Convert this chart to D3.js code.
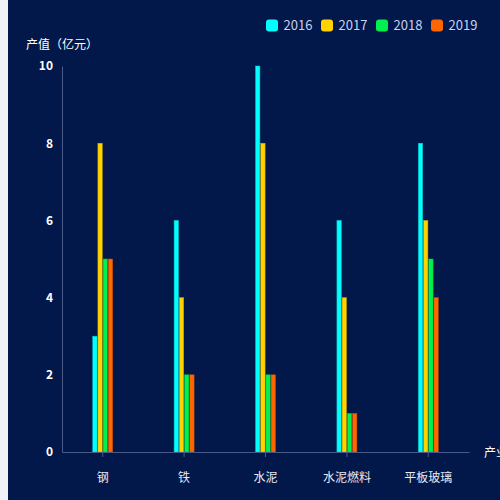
<!DOCTYPE html>
<html><head><meta charset="utf-8">
<script src="https://cdn.jsdelivr.net/npm/d3@7"></script>
<style>
html,body{margin:0;padding:0;background:#f0f2f7;}
svg{display:block;}
</style></head>
<body>
<svg id="c" width="500" height="500"></svg>
<script>
const categories = ["钢","铁","水泥","水泥燃料","平板玻璃"];
const seriesNames = ["2016","2017","2018","2019"];
const v2016 = [3,6,10,6,8];
const v2017 = [8,4,8,4,6];
const v2018 = [5,2,2,1,5];
const v2019 = [5,2,2,1,4];
const yTicks = [0,2,4,6,8,10];
const colors = ["#00ffff","#ffd200","#00f050","#ff6600"];
const seriesVals = [v2016,v2017,v2018,v2019];

(function(){
const svg = d3.select("#c");
const font = "'Microsoft YaHei','Noto Sans CJK SC',sans-serif";
svg.append("rect").attr("x",8).attr("y",0).attr("width",492).attr("height",500).attr("fill","#02174a");

const mLeft=62,mRight=469,mTop=66,mBottom=452;
const x = d3.scaleBand().domain(categories).range([mLeft,mRight]);
const y = d3.scaleLinear().domain([0,10]).range([mBottom,mTop]);
const xs = d3.scaleBand().domain(seriesNames).range([-10,10]).paddingInner(0.15);

// y axis
const ya = svg.append("g").attr("transform",`translate(${mLeft},0)`)
  .call(d3.axisLeft(y).tickValues(yTicks).tickSize(0).tickPadding(9));
ya.select(".domain").attr("stroke","#4a5a86");
ya.selectAll("text").attr("fill","#ffffff").attr("font-size",12).attr("font-family",font).attr("font-weight","bold");

// bars
categories.forEach((c,i)=>{
  seriesNames.forEach((s,j)=>{
    const val = seriesVals[j][i];
    svg.append("rect")
      .attr("x", x(c)+x.bandwidth()/2+xs(s))
      .attr("y", y(val))
      .attr("width", xs.bandwidth())
      .attr("height", y(0)-y(val))
      .attr("fill", colors[j])
      .attr("stroke", d3.color(colors[j]).darker(0.8))
      .attr("stroke-width",0.5);
  });
});

// x axis
const xa = svg.append("g").attr("transform",`translate(0,${mBottom})`)
  .call(d3.axisBottom(x).tickSize(5).tickPadding(16).tickSizeOuter(0));
xa.select(".domain").attr("stroke","#4a5a86");
xa.selectAll("line").attr("stroke","#4a5a86");
xa.selectAll("text").attr("fill","#e8ecf6").attr("font-size",12).attr("font-family",font);

// axis names
svg.append("text").attr("x",26).attr("y",49).text("产值（亿元）")
  .attr("fill","#ffffff").attr("font-size",12).attr("font-family",font);
svg.append("text").attr("x",484).attr("y",457).text("产业")
  .attr("fill","#ffffff").attr("font-size",12).attr("font-family",font);

// legend
seriesNames.forEach((s,j)=>{
  const lx = 266 + j*55;
  svg.append("rect").attr("x",lx).attr("y",19.5).attr("width",12).attr("height",12)
    .attr("rx",3).attr("fill",colors[j]);
  svg.append("text").attr("x",lx+17.5).attr("y",30).text(s)
    .attr("fill","#c8d2ee").attr("font-size",13).attr("font-family",font);
});
})();
</script>
</body></html>
